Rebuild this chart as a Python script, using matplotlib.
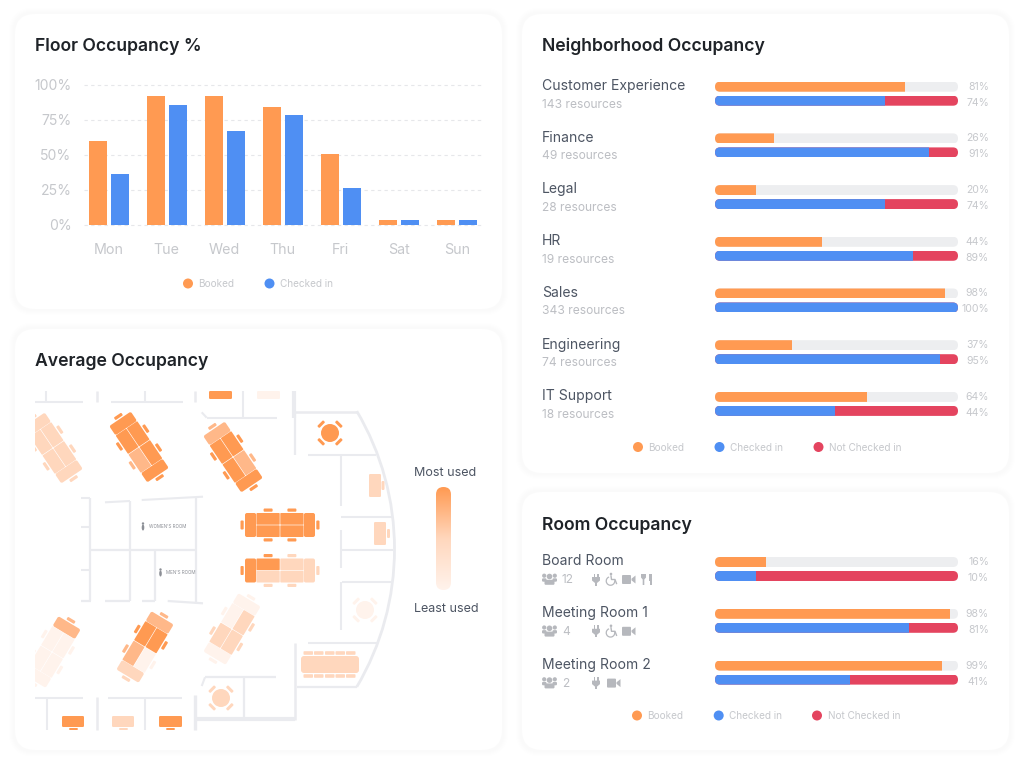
import matplotlib
matplotlib.use("Agg")
import matplotlib.pyplot as plt
import numpy as np
from matplotlib.patches import FancyBboxPatch, Circle, Rectangle, Arc, Ellipse, Polygon
from matplotlib.transforms import Affine2D
from matplotlib.colors import LinearSegmentedColormap

plt.rcParams['font.family'] = ['Inter', 'DejaVu Sans']

# ---------- data ----------
days = ['Mon', 'Tue', 'Wed', 'Thu', 'Fri', 'Sat', 'Sun']
floor_booked = [59.6, 92.3, 92.3, 84, 50.2, 3, 3]
floor_checked = [36, 85.4, 66.7, 78.2, 26, 3, 3]
y_ticks = [0, 25, 50, 75, 100]
y_labels = ['0%', '25%', '50%', '75%', '100%']

hoods = ['Customer Experience', 'Finance', 'Legal', 'HR', 'Sales', 'Engineering', 'IT Support']
hood_subs = ['143 resources', '49 resources', '28 resources', '19 resources', '343 resources', '74 resources', '18 resources']
hood_booked = [78, 24.4, 16.7, 44.1, 94.7, 31.7, 62.6]
hood_checked = [70, 88.2, 70, 81.5, 100, 92.6, 49.4]
hood_booked_lbl = ['81%', '26%', '20%', '44%', '98%', '37%', '64%']
hood_checked_lbl = ['74%', '91%', '74%', '89%', '100%', '95%', '44%']

rooms = ['Board Room', 'Meeting Room 1', 'Meeting Room 2']
room_caps = ['12', '4', '2']
room_booked = [20.8, 96.7, 93.4]
room_checked = [16.7, 79.7, 55.5]
room_booked_lbl = ['16%', '98%', '99%']
room_checked_lbl = ['10%', '81%', '41%']
room_icons = [['plug', 'chair', 'video', 'food'], ['plug', 'chair', 'video'], ['plug', 'video']]

ORANGE = '#FF9A52'
BLUE = '#4F8FF3'
RED = '#E4445F'
TRACK = '#EDEEF0'
INK = '#1F2328'
NAME = '#4D5563'
SOFT = '#C6C8CC'
SUB = '#BCBEC3'
WALL = '#EAEBEF'
D, M, L, V = ORANGE, '#FFB889', '#FFD7BD', '#FFF3EC'

W, H = 1024, 766
fig = plt.figure(figsize=(W / 100, H / 100), dpi=100, facecolor='white')
bg = fig.add_axes([0, 0, 1, 1], zorder=0)
bg.set_xlim(0, W)
bg.set_ylim(H, 0)
bg.axis('off')


def px(v):
    return v * 0.72


def sub_axes(x0, y0, x1, y1, zorder=2):
    a = fig.add_axes([x0 / W, 1 - y1 / H, (x1 - x0) / W, (y1 - y0) / H], zorder=zorder)
    a.patch.set_alpha(0)
    return a


def card(x0, y0, x1, y1):
    for grow, col in [(6, '#FEFEFE'), (5, '#FDFDFD'), (4, '#FCFCFC'), (3, '#FBFBFB'), (2, '#FAFAFA'), (1, '#FAFAFA')]:
        bg.add_patch(FancyBboxPatch((x0 - grow, y0 - grow), x1 - x0 + 2 * grow, y1 - y0 + 2 * grow,
                                    boxstyle=f'round,pad=0,rounding_size={20 + grow}', fc=col, ec='none', zorder=1))
    bg.add_patch(FancyBboxPatch((x0, y0), x1 - x0, y1 - y0, boxstyle='round,pad=0,rounding_size=20',
                                fc='white', ec='none', zorder=2))


card(15, 14, 502, 309)
card(15, 329, 502, 750)
card(522, 14, 1009, 473)
card(522, 492, 1009, 750)

for x, y, t in [(35, 46.5, 'Floor Occupancy %'), (35, 362, 'Average Occupancy'),
                (542, 46.5, 'Neighborhood Occupancy'), (542, 525.5, 'Room Occupancy')]:
    bg.text(x, y, t, fontsize=px(17.6), fontweight='semibold', color=INK, va='center', ha='left', zorder=5)


def legend(items, y):
    for x, c, t in items:
        bg.add_patch(Circle((x, y), 5, fc=c, ec='none', zorder=5))
        bg.text(x + 10.5, y + 0.6, t, fontsize=px(10), color=SOFT, va='center', ha='left', zorder=5)


# ---------- floor occupancy ----------
ax = sub_axes(84, 85, 482, 224.5)
xs = np.arange(len(days))
ax.bar(xs - 0.19, floor_booked, 0.31, color=ORANGE, zorder=3)
ax.bar(xs + 0.19, floor_checked, 0.31, color=BLUE, zorder=3)
ax.set_xlim(-0.425, 6.435)
ax.set_ylim(0, 100)
ax.set_yticks(y_ticks, y_labels)
ax.set_xticks(xs, days)
ax.tick_params(axis='y', length=0, pad=9, labelsize=px(14), labelcolor=SOFT)
ax.tick_params(axis='x', length=0, pad=13.5, labelsize=px(14.3), labelcolor=SOFT)
ax.grid(axis='y', color='#E6E7EA', linestyle=(0, (3, 3)), linewidth=0.8, zorder=0)
ax.set_axisbelow(True)
for s in ax.spines.values():
    s.set_visible(False)
for gl in ax.get_ygridlines():
    gl.set_clip_on(False)
for lbl in ax.get_yticklabels():
    lbl.set_y(lbl.get_position()[1])
legend([(188, ORANGE, 'Booked'), (269.5, BLUE, 'Checked in')], 283.5)


# ---------- progress bars ----------
BAR_X0, BAR_X1 = 715, 958


def progress(names, booked, checked, booked_lbl, checked_lbl, first_y, step):
    top = first_y - 5
    bot = first_y + step * (len(names) - 1) + 24
    a = sub_axes(BAR_X0, top, BAR_X1, bot)
    a.set_xlim(0, 100)
    a.set_ylim(bot, top)
    a.axis('off')
    for i in range(len(names)):
        y0 = first_y + i * step
        for yy, track, segs in [(y0, TRACK, [(booked[i], ORANGE)]),
                                (y0 + 14, RED, [(checked[i], BLUE)])]:
            clip = FancyBboxPatch((BAR_X0, yy), BAR_X1 - BAR_X0, 10, boxstyle='round,pad=0,rounding_size=5',
                                  transform=bg.transData)
            tb = a.barh(yy + 5, 100, 10, color=track, zorder=1)
            tb[0].set_clip_path(clip)
            for val, col in segs:
                b = a.barh(yy + 5, val, 10, color=col, zorder=2)
                b[0].set_clip_path(clip)
        bg.text(989, y0 + 5, booked_lbl[i], fontsize=px(10.5), color=SOFT, ha='right', va='center', zorder=5)
        bg.text(989, y0 + 21, checked_lbl[i], fontsize=px(10.5), color=SOFT, ha='right', va='center', zorder=5)


progress(hoods, hood_booked, hood_checked, hood_booked_lbl, hood_checked_lbl, 81.7, 51.7)
for i, (n, s) in enumerate(zip(hoods, hood_subs)):
    y = 86 + i * 51.7
    bg.text(542, y, n, fontsize=px(14), color=NAME, va='center', zorder=5)
    bg.text(542, y + 18.5, s, fontsize=px(12), color=SUB, va='center', zorder=5)
legend([(638, ORANGE, 'Booked'), (719.5, BLUE, 'Checked in'), (818.5, RED, 'Not Checked in')], 447)

progress(rooms, room_booked, room_checked, room_booked_lbl, room_checked_lbl, 557, 51.8)
legend([(637, ORANGE, 'Booked'), (718.7, BLUE, 'Checked in'), (817, RED, 'Not Checked in')], 715.5)

ICON = '#B6B8BD'


def icon_people(x, y):
    for cx, cy, r in [(x + 7.5, y - 3, 2.8), (x + 2.2, y - 3.8, 2.1), (x + 12.8, y - 3.8, 2.1)]:
        bg.add_patch(Circle((cx, cy), r, fc=ICON, ec='none', zorder=5))
    for x0, wd, y0, h in [(x, 4.5, y - 1.2, 3.4), (x + 10.5, 4.5, y - 1.2, 3.4), (x + 2.5, 10, y + 0.3, 5)]:
        bg.add_patch(FancyBboxPatch((x0, y0), wd, h, boxstyle='round,pad=0,rounding_size=1.2', fc=ICON, ec='none', zorder=5))


def icon_plug(x, y):
    bg.add_patch(Rectangle((x + 1.5, y - 6), 1.5, 4, fc=ICON, ec='none', zorder=5))
    bg.add_patch(Rectangle((x + 5, y - 6), 1.5, 4, fc=ICON, ec='none', zorder=5))
    bg.add_patch(Polygon([(x, y - 2.5), (x + 8, y - 2.5), (x + 8, y + 1), (x + 5, y + 3.5), (x + 3, y + 3.5), (x, y + 1)],
                         fc=ICON, ec='none', zorder=5))
    bg.add_patch(Rectangle((x + 3.2, y + 3), 1.6, 3, fc=ICON, ec='none', zorder=5))


def icon_chair(x, y):
    bg.add_patch(Circle((x + 5, y - 5.5), 1.3, fc=ICON, ec='none', zorder=5))
    bg.add_patch(Arc((x + 4.5, y + 1.5), 8.5, 8.5, theta1=-10, theta2=250, ec=ICON, lw=0.9, zorder=5))
    bg.plot([x + 5, x + 5.5, x + 9, x + 10.5], [y - 3.5, y, y, y + 4], color=ICON, lw=1, zorder=5)


def icon_video(x, y):
    bg.add_patch(FancyBboxPatch((x, y - 4.5), 9, 9, boxstyle='round,pad=0,rounding_size=1', fc=ICON, ec='none', zorder=5))
    bg.add_patch(Polygon([(x + 9.5, y - 0.8), (x + 13.5, y - 4), (x + 13.5, y + 4), (x + 9.5, y + 0.8)], fc=ICON, ec='none', zorder=5))


def icon_food(x, y):
    bg.add_patch(Polygon([(x, y - 5.5), (x + 5, y - 5.5), (x + 5, y - 2), (x + 3.3, y), (x + 3.3, y + 5.5),
                          (x + 1.7, y + 5.5), (x + 1.7, y), (x, y - 2)], fc=ICON, ec='none', zorder=5))
    bg.add_patch(Polygon([(x + 7.5, y - 5.5), (x + 10.5, y - 5.5), (x + 10.5, y + 5.5), (x + 8.8, y + 5.5), (x + 8.8, y + 1), (x + 7.5, y + 1)],
                         fc=ICON, ec='none', zorder=5))


ICON_FUNCS = {'plug': icon_plug, 'chair': icon_chair, 'video': icon_video, 'food': icon_food}
ICON_X = {'plug': 592, 'chair': 606, 'video': 622, 'food': 641}
for i, (n, c, ics) in enumerate(zip(rooms, room_caps, room_icons)):
    y = 561 + i * 51.8
    bg.text(542, y, n, fontsize=px(14), color=NAME, va='center', zorder=5)
    iy = y + 18.5
    icon_people(542, iy)
    bg.text(562, iy + 0.5, c, fontsize=px(12), color=SUB, va='center', zorder=5)
    for ic in ics:
        x = 607 if (ic == 'video' and 'chair' not in ics) else ICON_X[ic]
        ICON_FUNCS[ic](x, iy)

# ---------- floor plan ----------
plan_clip = Rectangle((35, 391), 365, 354, transform=bg.transData)

# (x0, y0, x1, y1, width)
walls = [
    (35, 401.7, 83, 401.7, 1.5), (45.7, 391, 45.7, 401.7, 1.5), (96.7, 391, 96.7, 402, 1.8),
    (110.7, 401.7, 183, 401.7, 1.5), (145.3, 391, 145.3, 401.7, 1.5), (195, 391, 195, 402, 1.8),
    (201.7, 412.3, 206.7, 417.7, 1.5), (206.7, 417.7, 277, 417.7, 1.5), (243.3, 391, 243.3, 417.7, 1.5),
    (294, 391, 294, 418, 3), (295, 411.7, 356.7, 411.7, 1.8), (295, 411.7, 295, 455, 1.6),
    (308, 455, 375.7, 455, 1.5), (341.3, 455, 341.3, 505.6, 1.5), (340.7, 516.7, 391.7, 516.7, 1.5),
    (341.3, 530, 341.3, 568, 1.5), (340.7, 550, 393, 550, 1.5), (341.7, 581.7, 391.7, 581.7, 1.5),
    (341.3, 581.7, 341.3, 630, 1.5), (308, 643.3, 377, 643.3, 1.5), (295, 642.7, 295, 720, 1.8),
    (296.7, 686.7, 356.7, 686.7, 1.6), (195, 719.3, 295, 719.3, 3), (244, 677, 244, 717, 1.6),
    (205, 677.3, 276, 677.3, 1.6), (205, 677.3, 201.7, 686, 1.5), (195, 695, 195, 730, 2.4),
    (35, 697.7, 83, 697.7, 1.5), (47.3, 697.7, 47.3, 730, 1.5), (96.7, 697, 96.7, 730, 1.8),
    (107.7, 697.7, 181.7, 697.7, 1.5), (145.3, 697.7, 145.3, 730, 1.5),
    (81, 497.7, 90, 497.7, 1.5), (90, 497.7, 90, 601, 1.6), (81, 526.7, 90, 526.7, 1.5),
    (105, 502.3, 130, 501, 1.5), (130, 501, 130, 601, 1.6), (141.7, 500, 203, 496.7, 1.5),
    (196, 497, 196, 604, 1.6), (90, 550, 196, 550, 1.6), (155, 550, 155, 601, 1.6),
    (81, 570, 90, 570, 1.5), (81, 601, 91, 601, 1.6), (105, 601, 130, 601, 1.6), (141.7, 601, 155, 601, 1.6),
    (167.7, 601, 203, 603.3, 1.6),
]
for x0, y0, x1, y1, lw in walls:
    bg.plot([x0, x1], [y0, y1], color=WALL, lw=lw, solid_capstyle='butt', zorder=3)
bg.add_patch(Arc((123.7, 549), 541.6, 541.6, theta1=-30.6, theta2=30.6, ec=WALL, lw=2.0, zorder=3))


def rrect(x, y, w, h, col, tr=None, r=1.2, z=4):
    t = bg.transData if tr is None else tr + bg.transData
    p = FancyBboxPatch((x, y), w, h, boxstyle=f'round,pad=0,rounding_size={r}', fc=col, ec='none', transform=t, zorder=z)
    bg.add_patch(p)
    p.set_clip_path(plan_clip)
    return p


def table(cx, cy, ang, cap0, cells, cap1, L_=70, W_=24):
    """cells: ((a_minus_y, a_plus_y), (b_minus_y, b_plus_y))"""
    tr = Affine2D().rotate_deg(ang).translate(cx, cy)
    cap = 11.5
    cell = (L_ - 2 * cap - 0.6) / 2
    g = 0.3
    # end chairs
    rrect(-L_ / 2 - 4.5, -4.5, 3.2, 9, cap0, tr, 1)
    rrect(L_ / 2 + 1.3, -4.5, 3.2, 9, cap1, tr, 1)
    rrect(-L_ / 2, -W_ / 2, cap - g, W_, cap0, tr, 2)
    rrect(L_ / 2 - cap + g, -W_ / 2, cap - g, W_, cap1, tr, 2)
    for k, (lo, hi) in enumerate(cells):
        x = -L_ / 2 + cap + k * (cell + 0.6)
        rrect(x, -W_ / 2, cell, W_ / 2 - g, lo, tr, 0.8)
        rrect(x, g, cell, W_ / 2 - g, hi, tr, 0.8)
        mid = x + cell / 2
        rrect(mid - 4.5, -W_ / 2 - 4.5, 9, 3.2, lo, tr, 1)
        rrect(mid - 4.5, W_ / 2 + 1.3, 9, 3.2, hi, tr, 1)


# (cx, cy, angle, first cap, cells, last cap)
plan_tables = [
    (53, 448, 56, L, ((L, L), (L, L)), L),
    (139, 447, 56, D, ((D, D), (D, M)), D),
    (233, 457, 56, M, ((D, D), (M, D)), D),
    (52, 652, -59, V, ((V, V), (V, V)), M),
    (145, 647, -59, L, ((M, V), (D, D)), M),
    (232, 629, -59, V, ((L, L), (V, L)), V),
    (280, 525, 0, D, ((D, D), (D, D)), D),
    (280, 570.5, 0, D, ((D, L), (L, L)), L),
]
for cx, cy, ang, c0, cl, c1 in plan_tables:
    table(cx, cy, ang, c0, cl, c1, 68 if ang else 70, 26 if ang else 24)

# (cx, cy, colour)
round_tables = [(330, 433, D), (365, 610, V), (221, 698, L)]
for cx, cy, col in round_tables:
    bg.add_patch(Circle((cx, cy), 9, fc=col, ec='none', zorder=4))
    for a in (45, 135, 225, 315):
        tr = Affine2D().rotate_deg(a).translate(cx, cy)
        rrect(11, -4.2, 3, 8.4, col, tr, 1)

# (x0, y0, x1, y1, colour) desks and chairs
desks = [
    (209, 391, 232, 399, D), (257, 391, 280, 399, V),
    (62, 716, 84, 727, D), (69, 728, 78, 730, D),
    (112, 716, 134, 727, L), (119, 728, 128, 730, L),
    (159, 716, 182, 727, D), (166, 728, 175, 730, D),
    (369, 474, 381, 497, L), (381.5, 481, 384.5, 490, L),
    (374, 522, 386, 545, L), (387, 529, 390, 538, L),
]
for x0, y0, x1, y1, col in desks:
    rrect(x0, y0, x1 - x0, y1 - y0, col, r=1.2)

# boardroom table with chairs
rrect(301, 656, 58, 17, L, r=3)
for x0 in (303.5, 314, 325, 335.5, 346):
    rrect(x0, 651.2, 9.5, 3.6, L, r=0.8)
    rrect(x0, 674.2, 9.5, 3.6, L, r=0.8)

# room signs
bg.text(149, 526.6, "WOMEN'S ROOM", fontsize=px(4.6), color='#8C8F96', va='center', zorder=4)
bg.text(166, 572.5, "MEN'S ROOM", fontsize=px(4.6), color='#8C8F96', va='center', zorder=4)
for sx, sy in [(143, 526.5), (160.5, 572.5)]:
    bg.add_patch(Circle((sx, sy - 3), 1.2, fc='#8C8F96', ec='none', zorder=4))
    bg.add_patch(Ellipse((sx, sy + 1), 2.6, 6, fc='#8C8F96', ec='none', zorder=4))

# usage gradient
cmap = LinearSegmentedColormap.from_list('use', [D, L, V])
grad = np.linspace(0, 1, 256).reshape(-1, 1)
im = bg.imshow(grad, cmap=cmap, extent=(436, 451, 590, 487), aspect='auto', zorder=4)
im.set_clip_path(FancyBboxPatch((436, 487), 15, 103, boxstyle='round,pad=0,rounding_size=7.5', transform=bg.transData))
bg.set_xlim(0, W)
bg.set_ylim(H, 0)
bg.text(445.5, 473, 'Most used', fontsize=px(12.5), color=NAME, ha='center', va='center', zorder=5)
bg.text(446, 609, 'Least used', fontsize=px(12.5), color=NAME, ha='center', va='center', zorder=5)

fig.savefig('out.png', dpi=100, facecolor='white')
